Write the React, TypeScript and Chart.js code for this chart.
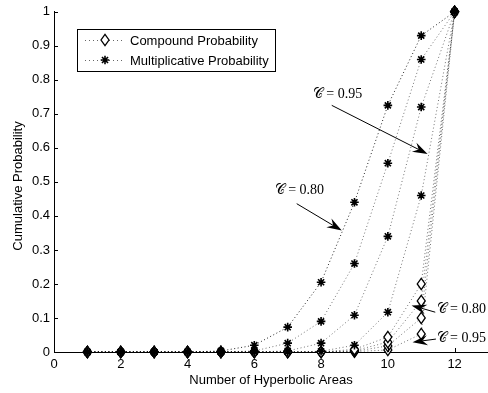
import React, { useEffect, useRef } from 'react';
import { Chart, registerables } from 'chart.js';
Chart.register(...registerables);

// ---- data ----
const areas = [1, 2, 3, 4, 5, 6, 7, 8, 9, 10, 11, 12];
const multA = [0, 0, 0, 0, 0.003, 0.02, 0.073, 0.205, 0.44, 0.725, 0.93, 1];
const multB = [0, 0, 0, 0, 0, 0.003, 0.026, 0.09, 0.26, 0.555, 0.86, 1];
const multC = [0, 0, 0, 0, 0, 0, 0.003, 0.026, 0.108, 0.34, 0.72, 1];
const multD = [0, 0, 0, 0, 0, 0, 0, 0.002, 0.02, 0.117, 0.46, 1];
const compA = [0, 0, 0, 0, 0, 0, 0, 0, 0.008, 0.044, 0.2, 1];
const compB = [0, 0, 0, 0, 0, 0, 0, 0, 0.004, 0.029, 0.15, 1];
const compC = [0, 0, 0, 0, 0, 0, 0, 0, 0.002, 0.018, 0.1, 1];
const compD = [0, 0, 0, 0, 0, 0, 0, 0, 0.001, 0.006, 0.053, 1];
const xTicks = [0, 2, 4, 6, 8, 10, 12];
const yTicks = [0, 0.1, 0.2, 0.3, 0.4, 0.5, 0.6, 0.7, 0.8, 0.9, 1];
const xTitle = 'Number of Hyperbolic Areas';
const yTitle = 'Cumulative Probability';
const legendLabels = ['Compound Probability', 'Multiplicative Probability'];
// annotation text position and arrow (tail -> tip) in data coordinates
const notes = [
  { text: '\u{1D49E} = 0.95', tx: 7.75, ty: 0.757, x0: 8.32, y0: 0.725, x1: 11.19, y1: 0.582 },
  { text: '\u{1D49E} = 0.80', tx: 6.61, ty: 0.474, x0: 7.27, y0: 0.436, x1: 8.62, y1: 0.357 },
  { text: '\u{1D49E} = 0.80', tx: 11.46, ty: 0.126, x0: 11.42, y0: 0.117, x1: 10.71, y1: 0.137 },
  { text: '\u{1D49E} = 0.95', tx: 11.46, ty: 0.041, x0: 11.44, y0: 0.038, x1: 10.74, y1: 0.029 },
];

const SANS = "'Liberation Sans', Arial, Helvetica, sans-serif";
const SERIF = "'Liberation Serif', 'DejaVu Serif', serif";

function diamondPath(ctx: CanvasRenderingContext2D, x: number, y: number) {
  ctx.beginPath();
  ctx.moveTo(x, y - 5.7);
  ctx.lineTo(x + 4, y);
  ctx.lineTo(x, y + 5.7);
  ctx.lineTo(x - 4, y);
  ctx.closePath();
  ctx.fillStyle = '#fff';
  ctx.fill();
  ctx.strokeStyle = '#000';
  ctx.lineWidth = 1.3;
  ctx.stroke();
}

function starPath(ctx: CanvasRenderingContext2D, x: number, y: number, r: number) {
  ctx.beginPath();
  ctx.moveTo(x - r, y); ctx.lineTo(x + r, y);
  ctx.moveTo(x, y - r); ctx.lineTo(x, y + r);
  const d = r * Math.SQRT1_2;
  ctx.moveTo(x - d, y - d); ctx.lineTo(x + d, y + d);
  ctx.moveTo(x - d, y + d); ctx.lineTo(x + d, y - d);
  ctx.strokeStyle = '#000';
  ctx.lineWidth = 1.6;
  ctx.stroke();
}

function drawArrow(ctx: CanvasRenderingContext2D, x0: number, y0: number, x1: number, y1: number) {
  const a = Math.atan2(y1 - y0, x1 - x0);
  const c = Math.cos(a), s = Math.sin(a);
  const L = 15, W = 5, N = 10;
  ctx.beginPath();
  ctx.moveTo(x0, y0);
  ctx.lineTo(x1 - N * c, y1 - N * s);
  ctx.stroke();
  ctx.beginPath();
  ctx.moveTo(x1, y1);
  ctx.lineTo(x1 - L * c + W * s, y1 - L * s - W * c);
  ctx.lineTo(x1 - N * c, y1 - N * s);
  ctx.lineTo(x1 - L * c - W * s, y1 - L * s + W * c);
  ctx.closePath();
  ctx.fill();
}

export default function App() {
  const ref = useRef<HTMLCanvasElement>(null);
  useEffect(() => {
    const mk = (label: string, ys: number[], star: boolean, color: string) => ({
      label,
      data: areas.map((x, i) => ({ x, y: ys[i] })),
      borderColor: color,
      borderWidth: 1,
      borderDash: [1, 2.5],
      pointRadius: 0,
      fill: false,
      tension: 0,
      clip: false,
      marker: star ? 'star' : 'diamond',
    });

    const markers = {
      id: 'markers',
      afterDatasetsDraw(chart: any) {
        const ctx = chart.ctx as CanvasRenderingContext2D;
        ctx.save();
        ctx.setLineDash([]);
        const ds = chart.data.datasets as any[];
        // diamonds first, stars on top
        for (const kind of ['diamond', 'star']) {
          for (let i = ds.length - 1; i >= 0; i--) {
            if (ds[i].marker !== kind) continue;
            const meta = chart.getDatasetMeta(i);
            for (const el of meta.data) {
              if (kind === 'diamond') diamondPath(ctx, el.x, el.y);
              else starPath(ctx, el.x, el.y, 4.3);
            }
          }
        }
        ctx.restore();
      },
    };

    const decor = {
      id: 'decor',
      afterDraw(chart: any) {
        const { ctx, chartArea, scales } = chart;
        const xs = scales.x, ys = scales.y;
        ctx.save();
        ctx.strokeStyle = '#000';
        ctx.fillStyle = '#000';
        ctx.lineWidth = 1;
        ctx.setLineDash([]);
        // inward ticks
        ctx.beginPath();
        for (const v of xTicks) {
          const px = Math.round(xs.getPixelForValue(v)) + 0.5;
          ctx.moveTo(px, chartArea.bottom);
          ctx.lineTo(px, chartArea.bottom - 4);
        }
        for (const v of yTicks) {
          const py = Math.round(ys.getPixelForValue(v)) + 0.5;
          ctx.moveTo(chartArea.left, py);
          ctx.lineTo(chartArea.left + 4, py);
        }
        ctx.stroke();
        // axis titles
        ctx.font = `13px ${SANS}`;
        ctx.textAlign = 'center';
        ctx.textBaseline = 'middle';
        ctx.fillText(xTitle, 271, 380);
        ctx.save();
        ctx.translate(18, 186);
        ctx.rotate(-Math.PI / 2);
        ctx.fillText(yTitle, 0, 0);
        ctx.restore();
        // legend
        ctx.fillStyle = '#fff';
        ctx.fillRect(77.5, 29.5, 198, 42);
        ctx.strokeRect(77.5, 29.5, 198, 42);
        const rows = [40, 60];
        rows.forEach((ry, i) => {
          ctx.save();
          ctx.strokeStyle = 'rgba(0,0,0,0.6)';
          ctx.lineWidth = 1;
          ctx.setLineDash([1, 3]);
          ctx.beginPath();
          ctx.moveTo(85, ry + 0.5);
          ctx.lineTo(125, ry + 0.5);
          ctx.stroke();
          ctx.setLineDash([]);
          if (i === 0) diamondPath(ctx, 105, ry);
          else starPath(ctx, 105, ry, 4.3);
          ctx.restore();
          ctx.fillStyle = '#000';
          ctx.textAlign = 'left';
          ctx.textBaseline = 'middle';
          ctx.font = `13px ${SANS}`;
          ctx.fillText(legendLabels[i], 130, ry + 1);
        });
        // annotations
        ctx.fillStyle = '#000';
        ctx.strokeStyle = '#000';
        ctx.lineWidth = 1;
        ctx.font = `14px ${SERIF}`;
        ctx.textAlign = 'left';
        ctx.textBaseline = 'middle';
        for (const n of notes) {
          ctx.fillText(n.text, xs.getPixelForValue(n.tx), ys.getPixelForValue(n.ty));
          drawArrow(ctx, xs.getPixelForValue(n.x0), ys.getPixelForValue(n.y0),
            xs.getPixelForValue(n.x1), ys.getPixelForValue(n.y1));
        }
        ctx.restore();
      },
    };

    const chart = new Chart(ref.current!, {
      type: 'line',
      data: {
        datasets: [
          mk('Multiplicative A', multA, true, 'rgba(0,0,0,0.85)'),
          mk('Multiplicative B', multB, true, 'rgba(0,0,0,0.55)'),
          mk('Multiplicative C', multC, true, 'rgba(0,0,0,0.55)'),
          mk('Multiplicative D', multD, true, 'rgba(0,0,0,0.55)'),
          mk('Compound A', compA, false, 'rgba(0,0,0,0.55)'),
          mk('Compound B', compB, false, 'rgba(0,0,0,0.55)'),
          mk('Compound C', compC, false, 'rgba(0,0,0,0.55)'),
          mk('Compound D', compD, false, 'rgba(0,0,0,0.55)'),
        ] as any,
      },
      options: {
        responsive: false,
        animation: false,
        layout: { padding: { top: 10, right: 0, left: 0, bottom: 0 } },
        plugins: { legend: { display: false }, tooltip: { enabled: false } },
        scales: {
          x: {
            type: 'linear',
            min: 0,
            max: 13,
            afterBuildTicks: (s: any) => { s.ticks = xTicks.map((v) => ({ value: v })); },
            afterFit: (s: any) => { s.height = 41; },
            grid: { display: true, drawOnChartArea: false, drawTicks: false },
            border: { display: true, color: '#000', width: 1 },
            ticks: {
              color: '#000',
              padding: 5,
              maxRotation: 0,
              font: { family: SANS, size: 13 },
              callback: (v: any) => String(v),
            },
          },
          y: {
            type: 'linear',
            min: 0,
            max: 1,
            afterBuildTicks: (s: any) => { s.ticks = yTicks.map((v) => ({ value: v })); },
            afterFit: (s: any) => { s.width = 54; },
            grid: { display: true, drawOnChartArea: false, drawTicks: false },
            border: { display: true, color: '#000', width: 1 },
            ticks: {
              color: '#000',
              padding: 4,
              font: { family: SANS, size: 13 },
              callback: (v: any) => String(Math.round(Number(v) * 10) / 10),
            },
          },
        },
      },
      plugins: [markers, decor],
    });
    return () => chart.destroy();
  }, []);

  return (
    <div style={{ position: 'fixed', left: 0, top: 0, width: 488, height: 393, background: '#fff' }}>
      <canvas ref={ref} width={488} height={393} style={{ display: 'block' }} />
    </div>
  );
}
